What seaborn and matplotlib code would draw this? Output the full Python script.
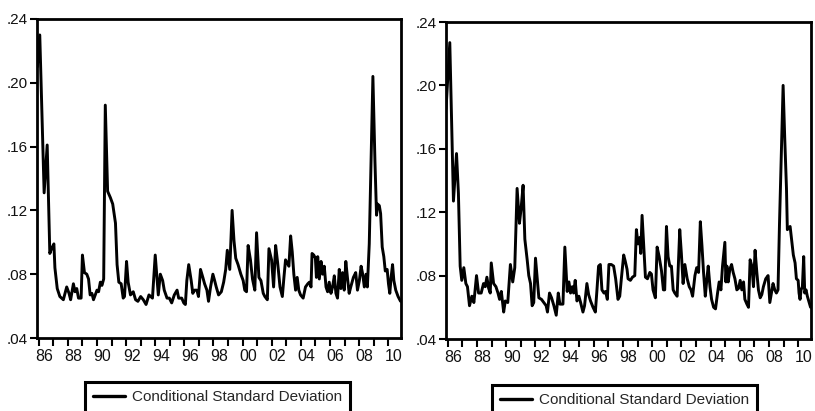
import matplotlib
matplotlib.use("Agg")
import matplotlib.pyplot as plt
import seaborn as sns
import pandas as pd
from matplotlib.ticker import FixedLocator, FixedFormatter

# Conditional standard deviation, model A (decimal year, value)
left_years = [
    1985.90, 1986.07, 1986.37, 1986.58, 1986.76, 1986.88, 1987.04, 1987.11, 1987.27, 1987.45,
    1987.69, 1987.92, 1988.08, 1988.19, 1988.38, 1988.49, 1988.61, 1988.73, 1988.91, 1989.00,
    1989.14, 1989.30, 1989.42, 1989.53, 1989.65, 1989.76, 1989.88, 1990.00, 1990.11, 1990.23,
    1990.34, 1990.46, 1990.57, 1990.73, 1990.92, 1991.08, 1991.27, 1991.38, 1991.50, 1991.66,
    1991.80, 1991.89, 1992.03, 1992.14, 1992.30, 1992.49, 1992.65, 1992.81, 1993.00, 1993.18,
    1993.37, 1993.57, 1993.81, 1994.00, 1994.21, 1994.35, 1994.51, 1994.62, 1994.81, 1994.97,
    1995.13, 1995.31, 1995.50, 1995.61, 1995.82, 1995.96, 1996.07, 1996.17, 1996.30, 1996.47,
    1996.58, 1996.70, 1996.86, 1996.97, 1997.11, 1997.27, 1997.39, 1997.55, 1997.66, 1997.80,
    1997.96, 1998.08, 1998.19, 1998.35, 1998.54, 1998.70, 1998.84, 1998.95, 1999.12, 1999.28,
    1999.41, 1999.53, 1999.69, 1999.88, 2000.04, 2000.15, 2000.27, 2000.38, 2000.54, 2000.68,
    2000.84, 2000.96, 2001.12, 2001.26, 2001.42, 2001.53, 2001.70, 2001.81, 2001.99, 2002.13,
    2002.27, 2002.41, 2002.57, 2002.73, 2002.84, 2002.95, 2003.07, 2003.18, 2003.30, 2003.41,
    2003.52, 2003.64, 2003.75, 2003.86, 2003.98, 2004.16, 2004.32, 2004.48, 2004.59, 2004.70,
    2004.77, 2004.89, 2005.00, 2005.07, 2005.16, 2005.27, 2005.39, 2005.50, 2005.61, 2005.73,
    2005.84, 2005.95, 2006.07, 2006.18, 2006.30, 2006.41, 2006.52, 2006.64, 2006.75, 2006.86,
    2006.98, 2007.09, 2007.20, 2007.32, 2007.43, 2007.61, 2007.77, 2007.89, 2008.02, 2008.14,
    2008.25, 2008.36, 2008.48, 2008.57, 2008.70, 2008.95, 2009.09, 2009.20, 2009.27, 2009.39,
    2009.48, 2009.59, 2009.70, 2009.80, 2009.93, 2010.02, 2010.11, 2010.20, 2010.30, 2010.39,
    2010.52, 2010.68, 2010.85,
]
left_sd = [
    0.210, 0.230, 0.131, 0.161, 0.093, 0.096, 0.099, 0.084, 0.071, 0.066,
    0.064, 0.072, 0.068, 0.064, 0.074, 0.069, 0.071, 0.065, 0.065, 0.092,
    0.081, 0.080, 0.077, 0.067, 0.068, 0.064, 0.067, 0.070, 0.069, 0.075,
    0.073, 0.077, 0.186, 0.132, 0.128, 0.124, 0.112, 0.086, 0.075, 0.074,
    0.065, 0.066, 0.088, 0.075, 0.067, 0.069, 0.064, 0.063, 0.066, 0.064,
    0.061, 0.067, 0.065, 0.092, 0.067, 0.080, 0.076, 0.070, 0.065, 0.065,
    0.062, 0.067, 0.070, 0.065, 0.065, 0.062, 0.061, 0.076, 0.086, 0.076,
    0.068, 0.070, 0.070, 0.066, 0.083, 0.078, 0.074, 0.070, 0.063, 0.072,
    0.080, 0.076, 0.072, 0.067, 0.069, 0.075, 0.083, 0.095, 0.083, 0.120,
    0.101, 0.090, 0.086, 0.080, 0.076, 0.070, 0.069, 0.098, 0.089, 0.077,
    0.070, 0.106, 0.078, 0.076, 0.068, 0.066, 0.064, 0.096, 0.089, 0.072,
    0.098, 0.087, 0.072, 0.066, 0.078, 0.089, 0.087, 0.085, 0.104, 0.094,
    0.080, 0.070, 0.078, 0.070, 0.067, 0.065, 0.072, 0.074, 0.075, 0.072,
    0.093, 0.092, 0.090, 0.078, 0.091, 0.077, 0.088, 0.080, 0.085, 0.072,
    0.069, 0.075, 0.068, 0.072, 0.079, 0.068, 0.065, 0.083, 0.071, 0.081,
    0.070, 0.088, 0.078, 0.068, 0.072, 0.078, 0.081, 0.070, 0.076, 0.085,
    0.080, 0.072, 0.080, 0.072, 0.099, 0.204, 0.151, 0.117, 0.124, 0.123,
    0.118, 0.097, 0.091, 0.082, 0.083, 0.074, 0.068, 0.078, 0.086, 0.076,
    0.070, 0.066, 0.063,
]

# Conditional standard deviation, model B (decimal year, value)
right_years = [
    1985.88, 1986.14, 1986.39, 1986.60, 1986.73, 1986.85, 1986.96, 1987.10, 1987.24, 1987.35,
    1987.49, 1987.65, 1987.79, 1987.97, 1988.11, 1988.29, 1988.45, 1988.57, 1988.68, 1988.80,
    1988.91, 1988.98, 1989.14, 1989.30, 1989.44, 1989.55, 1989.67, 1989.83, 1989.94, 1990.11,
    1990.29, 1990.45, 1990.59, 1990.75, 1990.91, 1991.02, 1991.16, 1991.28, 1991.44, 1991.55,
    1991.67, 1991.78, 1991.89, 1992.01, 1992.12, 1992.24, 1992.42, 1992.58, 1992.74, 1992.83,
    1992.97, 1993.11, 1993.27, 1993.43, 1993.57, 1993.68, 1993.89, 1994.02, 1994.18, 1994.30,
    1994.41, 1994.53, 1994.62, 1994.73, 1994.85, 1994.98, 1995.10, 1995.26, 1995.37, 1995.53,
    1995.65, 1995.78, 1995.95, 1996.11, 1996.22, 1996.33, 1996.45, 1996.56, 1996.70, 1996.81,
    1996.93, 1997.04, 1997.20, 1997.36, 1997.50, 1997.66, 1997.78, 1997.89, 1998.05, 1998.16,
    1998.28, 1998.35, 1998.51, 1998.65, 1998.81, 1998.92, 1999.03, 1999.15, 1999.22, 1999.31,
    1999.45, 1999.54, 1999.68, 1999.84, 1999.95, 2000.06, 2000.22, 2000.34, 2000.48, 2000.64,
    2000.77, 2000.86, 2000.98, 2001.09, 2001.21, 2001.32, 2001.44, 2001.55, 2001.71, 2001.89,
    2002.00, 2002.12, 2002.24, 2002.40, 2002.54, 2002.66, 2002.77, 2002.93, 2003.05, 2003.18,
    2003.30, 2003.41, 2003.52, 2003.64, 2003.75, 2003.84, 2003.96, 2004.07, 2004.21, 2004.34,
    2004.48, 2004.59, 2004.71, 2004.82, 2004.98, 2005.05, 2005.12, 2005.21, 2005.32, 2005.44,
    2005.55, 2005.67, 2005.80, 2005.92, 2006.03, 2006.14, 2006.26, 2006.35, 2006.49, 2006.60,
    2006.71, 2006.83, 2006.94, 2007.05, 2007.17, 2007.28, 2007.40, 2007.51, 2007.62, 2007.78,
    2007.94, 2008.06, 2008.17, 2008.28, 2008.40, 2008.51, 2008.62, 2008.72, 2008.97, 2009.08,
    2009.20, 2009.26, 2009.45, 2009.56, 2009.67, 2009.79, 2009.88, 2010.00, 2010.06, 2010.13,
    2010.20, 2010.29, 2010.38, 2010.45, 2010.54, 2010.63, 2010.85,
]
right_sd = [
    0.185, 0.227, 0.127, 0.157, 0.132, 0.086, 0.077, 0.085, 0.075, 0.073,
    0.061, 0.067, 0.063, 0.080, 0.069, 0.069, 0.075, 0.073, 0.079, 0.072,
    0.069, 0.088, 0.075, 0.073, 0.069, 0.065, 0.070, 0.057, 0.064, 0.063,
    0.087, 0.076, 0.085, 0.135, 0.113, 0.122, 0.137, 0.103, 0.090, 0.080,
    0.075, 0.061, 0.063, 0.091, 0.079, 0.066, 0.065, 0.063, 0.061, 0.057,
    0.069, 0.066, 0.061, 0.055, 0.069, 0.062, 0.062, 0.098, 0.070, 0.076,
    0.069, 0.073, 0.069, 0.077, 0.064, 0.067, 0.063, 0.057, 0.061, 0.075,
    0.068, 0.064, 0.060, 0.057, 0.071, 0.086, 0.087, 0.071, 0.069, 0.070,
    0.065, 0.087, 0.087, 0.086, 0.078, 0.065, 0.067, 0.078, 0.093, 0.089,
    0.084, 0.078, 0.077, 0.079, 0.080, 0.109, 0.100, 0.104, 0.094, 0.118,
    0.095, 0.079, 0.078, 0.082, 0.081, 0.071, 0.066, 0.098, 0.092, 0.083,
    0.071, 0.071, 0.111, 0.092, 0.086, 0.086, 0.071, 0.069, 0.067, 0.109,
    0.094, 0.075, 0.087, 0.078, 0.073, 0.071, 0.067, 0.080, 0.085, 0.082,
    0.114, 0.099, 0.082, 0.067, 0.078, 0.086, 0.073, 0.065, 0.060, 0.059,
    0.069, 0.076, 0.071, 0.086, 0.101, 0.076, 0.086, 0.076, 0.084, 0.087,
    0.082, 0.078, 0.071, 0.072, 0.077, 0.071, 0.076, 0.065, 0.062, 0.060,
    0.090, 0.086, 0.073, 0.096, 0.082, 0.071, 0.066, 0.068, 0.073, 0.078,
    0.080, 0.063, 0.069, 0.075, 0.071, 0.069, 0.071, 0.112, 0.200, 0.167,
    0.135, 0.109, 0.111, 0.102, 0.093, 0.088, 0.078, 0.077, 0.069, 0.065,
    0.071, 0.073, 0.092, 0.069, 0.071, 0.067, 0.060,
]

y_ticks = [0.04, 0.08, 0.12, 0.16, 0.20, 0.24]
y_tick_labels = [".04", ".08", ".12", ".16", ".20", ".24"]
tick_years = list(range(1986, 2011))
label_years = list(range(1986, 2011, 2))
x_tick_labels = ["86", "88", "90", "92", "94", "96", "98", "00", "02", "04", "06", "08", "10"]
legend_label = "Conditional Standard Deviation"

sns.set_theme(style="white")
plt.rcParams["font.family"] = ["Liberation Sans", "DejaVu Sans"]

fig = plt.figure(figsize=(8.15, 4.11), dpi=100)
ax_left = fig.add_axes([37 / 815, 1 - 338 / 411, (401 - 37) / 815, (338 - 19) / 411])
ax_right = fig.add_axes([446 / 815, 1 - 339 / 411, (811 - 446) / 815, (339 - 22) / 411])

panels = [
    (ax_left, left_years, left_sd, (217.5 / 815, 1 - 382 / 411)),
    (ax_right, right_years, right_sd, (624.5 / 815, 1 - 385 / 411)),
]

for ax, years, values, leg_anchor in panels:
    frame = pd.DataFrame({"year": years, "sd": values})
    sns.lineplot(data=frame, x="year", y="sd", ax=ax, color="black",
                 linewidth=2.1, label=legend_label, sort=True)

    ax.set_xlim(1985.88, 2010.88)
    ax.set_ylim(0.04, 0.24)
    ax.set_xlabel("")
    ax.set_ylabel("")

    for spine in ax.spines.values():
        spine.set_visible(True)
        spine.set_color("black")
        spine.set_linewidth(2.0)

    ax.yaxis.set_major_locator(FixedLocator(y_ticks))
    ax.yaxis.set_major_formatter(FixedFormatter(y_tick_labels))
    ax.tick_params(axis="y", which="major", left=True, length=5, width=1.5,
                   color="black", pad=1.5, labelsize=11, labelcolor="#111111")

    # yearly tick marks, with two-year labels set inside the year
    ax.xaxis.set_major_locator(FixedLocator(tick_years))
    ax.xaxis.set_major_formatter(FixedFormatter([""] * len(tick_years)))
    ax.xaxis.set_minor_locator(FixedLocator([y + 0.38 for y in label_years]))
    ax.xaxis.set_minor_formatter(FixedFormatter(x_tick_labels))
    ax.tick_params(axis="x", which="major", bottom=True, length=6, width=1.5,
                   color="black", direction="out")
    ax.tick_params(axis="x", which="minor", bottom=True, length=0, pad=8,
                   labelsize=11.5, labelcolor="#111111")

    leg = ax.legend(loc="upper center", bbox_to_anchor=leg_anchor,
                    bbox_transform=fig.transFigure, frameon=True, fancybox=False,
                    edgecolor="black", framealpha=1, fontsize=11,
                    handlelength=2.1, handletextpad=0.4, borderpad=0.55,
                    borderaxespad=0)
    leg.get_frame().set_linewidth(2.2)
    for line in leg.get_lines():
        line.set_linewidth(2.4)

fig.savefig("out.png", dpi=100)
